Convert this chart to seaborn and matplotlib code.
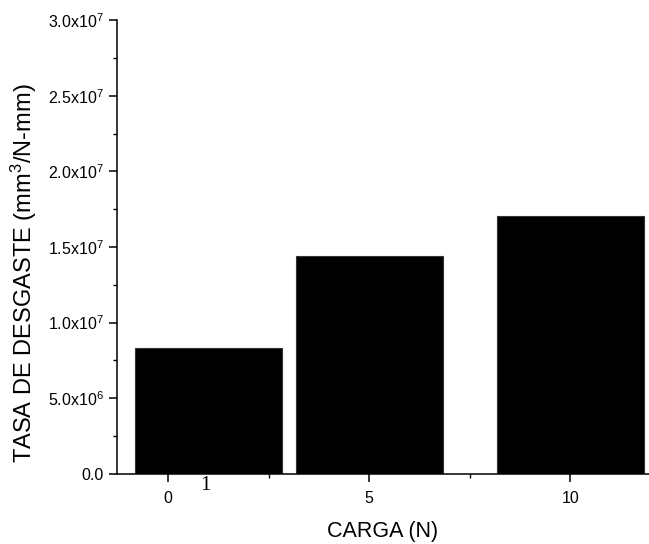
import matplotlib
matplotlib.use("Agg")
import matplotlib.pyplot as plt
from matplotlib.ticker import MultipleLocator, FuncFormatter
from matplotlib.font_manager import FontProperties
import seaborn as sns
import pandas as pd

# Wear-rate data
carga = [1, 5, 10]                       # bar positions on the CARGA axis
tasa = [8.31e6, 14.41e6, 17.07e6]        # wear rate values
x_ticks = [0, 5, 10]

sns.set_theme(style="ticks")
plt.rcParams["font.family"] = ["Liberation Sans", "DejaVu Sans"]
plt.rcParams["font.serif"] = ["Liberation Serif", "DejaVu Serif"]
plt.rcParams["mathtext.fontset"] = "custom"
plt.rcParams["mathtext.rm"] = "Liberation Sans"
plt.rcParams["mathtext.it"] = "Liberation Sans"
plt.rcParams["text.color"] = "black"
plt.rcParams["axes.labelcolor"] = "black"
plt.rcParams["xtick.color"] = "black"
plt.rcParams["ytick.color"] = "black"

df = pd.DataFrame({"carga": carga, "tasa": tasa})

fig = plt.figure(figsize=(6.49, 5.44), dpi=100)
ax = fig.add_axes([0.180, 0.129, 0.820, 0.834])

sns.barplot(data=df, x="carga", y="tasa", native_scale=True, width=0.9125,
            color="black", edgecolor="#333333", linewidth=0.8,
            errorbar=None, saturation=1, ax=ax)

ax.set_xlim(-1.28, 11.96)
ax.set_ylim(0, 3.0e7)

ax.set_xticks(x_ticks)
ax.set_xticklabels([str(v) for v in x_ticks])
ax.xaxis.set_minor_locator(MultipleLocator(2.5))
ax.yaxis.set_major_locator(MultipleLocator(5e6))
ax.yaxis.set_minor_locator(MultipleLocator(2.5e6))


def sci_fmt(v, pos):
    if v == 0:
        return "0.0"
    exp = 0
    m = v
    while abs(m) >= 10:
        m /= 10
        exp += 1
    return f"{m:.1f}x10$^{{{exp}}}$"


ax.yaxis.set_major_formatter(FuncFormatter(sci_fmt))

for side in ("top", "right"):
    ax.spines[side].set_visible(False)
for side in ("left", "bottom"):
    ax.spines[side].set_linewidth(1.1)
    ax.spines[side].set_color("black")

ax.tick_params(axis="both", which="major", direction="out", length=5.5,
               width=1.1, labelsize=11.5)
ax.tick_params(axis="y", which="major", pad=4)
ax.tick_params(axis="x", which="major", pad=7)
ax.tick_params(axis="both", which="minor", direction="out", length=3.2,
               width=1.0)

ax.set_xlabel("CARGA (N)", fontsize=15.5, labelpad=11)
ax.set_ylabel("TASA DE DESGASTE (mm$^3$/N-mm)", fontsize=17)
ax.yaxis.set_label_coords(-0.147, 0.443)

serif = FontProperties(family="serif", size=15)
ax.text(205 / 649, 1 - 486 / 544, "1", transform=fig.transFigure,
        fontproperties=serif, ha="center", va="center")

fig.savefig("out.png", dpi=100)
